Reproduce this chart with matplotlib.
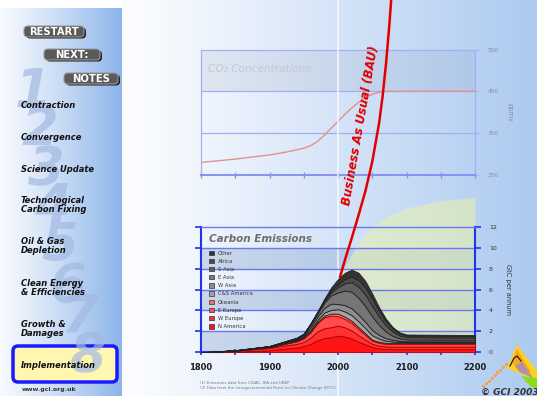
import matplotlib.pyplot as plt
import numpy as np
from matplotlib.patches import FancyBboxPatch, Patch, Polygon
from matplotlib import transforms

# CO2 concentrations (ppmv)
co2_years = [1800, 1825, 1850, 1875, 1900, 1925, 1950, 1960, 1970, 1980, 1990,
             2000, 2010, 2020, 2030, 2040, 2050, 2060, 2072, 2200]
co2_ppmv = [280, 284, 288, 293, 298, 305, 314, 320, 330, 345, 362,
            378, 395, 410, 424, 435, 443, 448, 450, 450]

# Carbon emissions by region (GtC per annum), stacked from the bottom
em_years = [1800, 1850, 1900, 1920, 1940, 1950, 1960, 1970, 1980, 1990, 2000,
            2010, 2020, 2030, 2040, 2050, 2060, 2070, 2080, 2090, 2100, 2200]
n_america = [0, 0.05, 0.2, 0.35, 0.45, 0.6, 0.8, 1.15, 1.35, 1.45, 1.6,
             1.5, 1.3, 1.0, 0.75, 0.5, 0.38, 0.32, 0.3, 0.3, 0.3, 0.3]
w_europe = [0, 0.08, 0.22, 0.28, 0.35, 0.4, 0.6, 0.85, 0.95, 0.95, 0.95,
            0.88, 0.78, 0.62, 0.46, 0.3, 0.26, 0.24, 0.24, 0.24, 0.24, 0.24]
e_europe = [0, 0.02, 0.07, 0.15, 0.25, 0.35, 0.52, 0.78, 1.05, 1.1, 0.9,
            0.8, 0.72, 0.58, 0.45, 0.3, 0.26, 0.24, 0.26, 0.26, 0.26, 0.26]
oceania = [0, 0, 0.01, 0.02, 0.05, 0.05, 0.08, 0.12, 0.15, 0.2, 0.25,
           0.22, 0.2, 0.2, 0.14, 0.1, 0.1, 0.1, 0.1, 0.1, 0.1, 0.1]
cs_america = [0, 0.01, 0.02, 0.05, 0.07, 0.1, 0.15, 0.2, 0.3, 0.35, 0.42,
              0.5, 0.55, 0.55, 0.5, 0.42, 0.3, 0.2, 0.13, 0.09, 0.07, 0.07]
w_asia = [0, 0.02, 0.03, 0.06, 0.1, 0.12, 0.25, 0.3, 0.45, 0.6, 0.5,
          0.6, 0.65, 0.65, 0.6, 0.5, 0.35, 0.25, 0.16, 0.1, 0.08, 0.07]
e_asia = [0, 0.01, 0.03, 0.05, 0.07, 0.1, 0.25, 0.3, 0.5, 0.8, 1.1,
          1.4, 1.6, 1.6, 1.5, 1.3, 0.95, 0.62, 0.38, 0.24, 0.18, 0.16]
s_asia = [0, 0.01, 0.01, 0.02, 0.03, 0.04, 0.06, 0.1, 0.15, 0.3, 0.5,
          0.7, 0.9, 1.05, 1.1, 1.0, 0.8, 0.58, 0.4, 0.27, 0.22, 0.2]
africa = [0, 0, 0.01, 0.01, 0.02, 0.02, 0.04, 0.05, 0.1, 0.15, 0.28,
          0.4, 0.55, 0.65, 0.7, 0.68, 0.55, 0.4, 0.28, 0.18, 0.15, 0.15]
other = [0, 0, 0, 0.01, 0.01, 0.02, 0.05, 0.05, 0.1, 0.3, 0.5,
         0.6, 0.65, 0.7, 0.6, 0.5, 0.35, 0.25, 0.15, 0.12, 0.1, 0.1]

region_names = ['N America', 'W Europe', 'E Europe', 'Oceania', 'C&S America',
                'W Asia', 'E Asia', 'S Asia', 'Africa', 'Other']
region_colors = ['#ff1414', '#ff3030', '#ff4c4c', '#ff6a6a', '#a4a4a4',
                 '#8c8c8c', '#767676', '#606060', '#4a4a4a', '#343434']

# Business as usual projection (GtC)
bau_years = [2003, 2010, 2020, 2030, 2040, 2050, 2060, 2065, 2070, 2075, 2080]
bau_gtc = [7.2, 8.8, 10.9, 13.1, 15.4, 18.2, 21.9, 24.4, 27.5, 31.3, 35.8]

# pale "contraction" backdrop behind the emissions
green_years = [2004, 2015, 2030, 2050, 2070, 2100, 2150, 2200]
green_top = [7.4, 8.8, 10.5, 12.0, 12.9, 13.8, 14.5, 14.8]

year_ticks = [1800, 1900, 2000, 2100, 2200]
co2_ticks = [250, 350, 450, 550]
em_ticks = [0, 2, 4, 6, 8, 10, 12]

menu_items = ['Contraction', 'Convergence', 'Science Update',
              'Technological\nCarbon Fixing', 'Oil & Gas\nDepletion',
              'Clean Energy\n& Efficiencies', 'Growth &\nDamages']
menu_y = [106, 137, 170, 205, 246, 288, 329]

W, H = 537, 396
fig = plt.figure(figsize=(W / 100, H / 100), dpi=100)

# background in pixel coordinates
bg = fig.add_axes([0, 0, 1, 1], zorder=-10)
bg.axis('off')

t = np.linspace(0, 1, 256)
side = np.zeros((2, 256, 3))
c0, c1 = np.array([246, 249, 254]) / 255, np.array([140, 180, 234]) / 255
for i in range(3):
    side[:, :, i] = c0[i] + (c1[i] - c0[i]) * t ** 1.2
bg.imshow(side, extent=[0, 122, H, 8], aspect='auto')
main = np.zeros((2, 256, 3))
c0, c1 = np.array([252, 253, 255]) / 255, np.array([172, 202, 240]) / 255
for i in range(3):
    main[:, :, i] = c0[i] + (c1[i] - c0[i]) * t ** 1.1
bg.imshow(main, extent=[122, W, H, 0], aspect='auto')
bg.set_xlim(0, W)
bg.set_ylim(H, 0)

# faded big step numbers
digits = [('1', 33, 92), ('2', 40, 130), ('3', 46, 170), ('4', 52, 207),
          ('5', 60, 246), ('6', 68, 287), ('7', 80, 318), ('8', 88, 356)]
for d, x, y in digits:
    bg.text(x, y, d, fontsize=38, fontweight='bold', fontstyle='italic',
            color='#a3b9e2', alpha=0.7, ha='center', va='center')

# buttons
for label, x0, y0, w in [('RESTART', 24, 26, 60), ('NEXT:', 44, 49, 56), ('NOTES', 64, 73, 54)]:
    bg.add_patch(FancyBboxPatch((x0 + 2, y0 + 1.5), w, 11, boxstyle='round,pad=0,rounding_size=4',
                                fc='#222222', ec='none'))
    bg.add_patch(FancyBboxPatch((x0, y0), w, 11, boxstyle='round,pad=0,rounding_size=4',
                                fc='#5a5a5a', ec='#9a9a9a', lw=0.8))
    bg.text(x0 + w / 2, y0 + 5.8, label, color='white', fontsize=7.2, fontweight='bold',
            ha='center', va='center')

for item, y in zip(menu_items, menu_y):
    bg.text(21, y, item, fontsize=6, fontweight='bold', fontstyle='italic', color='#111111',
            ha='left', va='center', linespacing=0.95)

bg.add_patch(FancyBboxPatch((13, 346), 104, 36, boxstyle='round,pad=0,rounding_size=5',
                            fc='#fff6b0', ec='#1a1aff', lw=2.5))
bg.text(21, 365, 'Implementation', fontsize=6, fontweight='bold', fontstyle='italic',
        color='#111111', ha='left', va='center')
bg.text(22, 390, 'www.gci.org.uk', fontsize=4.5, fontweight='bold', color='#333333',
        ha='left', va='center')

# logo
bg.add_patch(Polygon([(507, 368), (517, 345), (537, 371), (537, 381)], fc='#ffd21a', ec='none'))
bg.add_patch(Polygon([(512, 362), (517, 349), (531, 372), (520, 373)], fc='#ff9a1a', ec='none', alpha=0.8))
bg.add_patch(Polygon([(515, 366), (522, 362), (533, 378), (521, 373)], fc='#9a8ad0', ec='none', alpha=0.8))
bg.add_patch(Polygon([(521, 376), (537, 378), (537, 388), (531, 387)], fc='#8add1a', ec='none'))
bg.plot([510, 514, 517, 521], [366, 358, 356, 361], color='#222222', lw=0.9)
bg.plot(np.linspace(483, 506, 9), np.linspace(386, 364, 9), ls='none', marker='o', ms=1.2, color='#ff9a40')
bg.text(481, 392, '\u00a9 GCI 2003', fontsize=6.5, fontweight='bold', fontstyle='italic',
        color='#333333', ha='left', va='center')

bg.text(200, 383, '(1) Emissions data from CDIAC, IEA and UNEP', fontsize=2.8, color='#777777', va='center')
bg.text(200, 388, '(2) Data from the Intergovernmental Panel on Climate Change (IPCC)',
        fontsize=2.8, color='#777777', va='center')

# CO2 concentrations chart
ax1 = fig.add_axes([201 / W, 1 - 175 / H, 274 / W, 125.5 / H])
ax1.patch.set_alpha(0)
ax1.set_xlim(1800, 2200)
ax1.set_ylim(250, 550)
ax1.axhspan(450, 550, color='#7888a8', alpha=0.13, lw=0, zorder=0)
for y in co2_ticks[1:-1]:
    ax1.axhline(y, color='#a2adf2', lw=0.9, zorder=1)
ax1.plot(co2_years, co2_ppmv, color='#e29090', lw=1.0, zorder=3)
for s in ax1.spines.values():
    s.set_color('#a4b0f4')
    s.set_linewidth(0.9)
ax1.spines['bottom'].set_color('#8492f2')
ax1.spines['bottom'].set_linewidth(1.4)
ax1.set_xticks(np.arange(1800, 2201, 50))
ax1.set_xticklabels([])
ax1.tick_params(axis='x', direction='inout', length=4, color='#8492f2', width=1)
ax1.yaxis.tick_right()
ax1.yaxis.set_label_position('right')
ax1.set_yticks(co2_ticks)
ax1.tick_params(axis='y', direction='out', length=3, color='#a4b0f4', labelsize=4.2,
                labelcolor='#8a8f9a', pad=6)
ax1.set_ylabel('ppmv', fontsize=4.8, color='#8a8f9a', rotation=270, labelpad=10)
ax1.text(0.025, 0.845, 'CO\u2082 Concentrations', transform=ax1.transAxes, fontsize=7.6,
         fontstyle='italic', color='#c4c8d0', va='center')

# Carbon emissions chart
ax2 = fig.add_axes([201 / W, 1 - 352.3 / H, 274 / W, 125.6 / H])
ax2.patch.set_alpha(0)
ax2.set_xlim(1800, 2200)
ax2.set_ylim(0, 12)
for lo in em_ticks[0:-1:2]:
    ax2.axhspan(lo, lo + 2, color='#6a8cc0', alpha=0.28, lw=0, zorder=0.3)
ax2.fill_between(green_years, 0, green_top, color='#e6f0b2', alpha=0.6, lw=0, zorder=0.5,
                 clip_on=False)
for y in em_ticks[1:-1]:
    ax2.axhline(y, color='#6a78f2', lw=1.0, zorder=1)

vtrans = transforms.blended_transform_factory(ax2.transData, fig.transFigure)
ax2.plot([2000, 2000], [0, 1], transform=vtrans, color='white', lw=1.5, alpha=0.6,
         clip_on=False, zorder=0.8)

layers = ax2.stackplot(em_years, n_america, w_europe, e_europe, oceania, cs_america,
                       w_asia, e_asia, s_asia, africa, other, colors=region_colors, zorder=3)
for i, poly in enumerate(layers):
    poly.set_edgecolor('#b00000' if i < 4 else '#222222')
    poly.set_linewidth(0.6)

ax2.plot(bau_years, bau_gtc, color='#e00000', lw=1.8, zorder=5, clip_on=False)

for s in ['left', 'right', 'bottom']:
    ax2.spines[s].set_color('#2233ee')
    ax2.spines[s].set_linewidth(1.5)
ax2.spines['top'].set_color('#6a78f2')
ax2.spines['top'].set_linewidth(1.0)

ax2.set_xticks(year_ticks)
ax2.set_xticks(np.arange(1850, 2200, 100), minor=True)
ax2.tick_params(axis='x', which='both', direction='inout', length=5, width=1.2, color='#2233ee')
ax2.tick_params(axis='x', labelsize=6, labelcolor='#1a1a1a', pad=5)
for lab in ax2.get_xticklabels():
    lab.set_fontweight('bold')
ax2.yaxis.tick_right()
ax2.yaxis.set_label_position('right')
ax2.set_yticks(em_ticks)
ax2.tick_params(axis='y', which='both', direction='out', length=4, width=1.2, color='#2233ee',
                labelsize=4.5, labelcolor='#333333', pad=6, left=True)
ax2.set_ylabel('GtC per annum', fontsize=4.8, color='#333333', rotation=270, labelpad=10)

ax2.text(0.03, 0.905, 'Carbon Emissions', transform=ax2.transAxes, fontsize=7.5,
         fontweight='bold', fontstyle='italic', color='#6e6e6e', va='center')

handles = [Patch(facecolor=c, edgecolor='#333333', lw=0.5) for c in region_colors][::-1]
ax2.legend(handles, region_names[::-1], loc='upper left', bbox_to_anchor=(0.03, 0.81),
           frameon=False, fontsize=3.8, handlelength=0.9, handleheight=0.9,
           handletextpad=0.7, labelspacing=0.6, borderpad=0, borderaxespad=0,
           labelcolor='#333333')

fig.text(361 / W, 1 - 126 / H, 'Business As Usual (BAU)', rotation=80, fontsize=8.5,
         fontweight='bold', fontstyle='italic', color='#e00000', ha='center', va='center',
         zorder=20)

fig.savefig('out.png', dpi=100)
